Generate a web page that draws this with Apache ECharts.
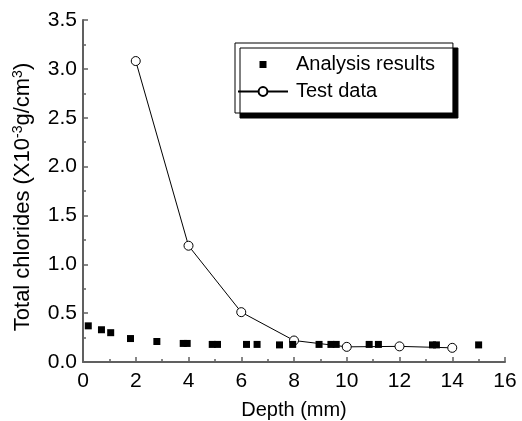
<!DOCTYPE html>
<html>
<head>
<meta charset="utf-8">
<script src="https://cdn.jsdelivr.net/npm/echarts@6/dist/echarts.min.js"></script>
<style>
  html, body { margin: 0; padding: 0; background: #fff; }
  #chart { width: 522px; height: 421px; }
</style>
</head>
<body>
<div id="chart"></div>
<script>
  // Analysis results: [depth (mm), total chlorides]
  const analysisResults = [
    [0.2, 0.37], [0.7, 0.33], [1.05, 0.3], [1.8, 0.24], [2.8, 0.21],
    [3.8, 0.19], [3.95, 0.19], [4.9, 0.18], [5.1, 0.18], [6.2, 0.18],
    [6.6, 0.18], [7.45, 0.175], [7.95, 0.18], [8.95, 0.18], [9.4, 0.18],
    [9.6, 0.18], [10.85, 0.18], [11.2, 0.18], [13.25, 0.175], [13.4, 0.175],
    [15.0, 0.175]
  ]
  // Test data
  const testDepth = [2, 4, 6, 8, 10, 12, 14]
  const testValues = [3.08, 1.19, 0.51, 0.22, 0.155, 0.16, 0.145]

  const axisColor = '#606060'
  const font = 'Arial, "Liberation Sans", sans-serif'

  const chart = echarts.init(document.getElementById('chart'))

  const option = {
    animation: false,
    backgroundColor: '#fff',
    textStyle: { fontFamily: font },
    grid: { left: 83, right: 17, top: 20, bottom: 59, outerBoundsMode: 'none' },
    legend: {
      orient: 'vertical',
      left: 235,
      top: 43,
      padding: [10, 18, 10, 2],
      itemWidth: 50,
      itemHeight: 11,
      itemGap: 4,
      backgroundColor: '#fff',
      borderColor: '#000',
      borderWidth: 1,
      shadowColor: '#000',
      shadowBlur: 0,
      shadowOffsetX: 5,
      shadowOffsetY: 5,
      textStyle: { fontSize: 20, lineHeight: 23, color: '#000', fontFamily: font, padding: [0, 0, 0, 3] },
      data: [
        { name: 'Analysis results', icon: 'path://M0,0M11,11M2,2L9,2L9,9L2,9Z' },
        { name: 'Test data' }
      ]
    },
    xAxis: {
      type: 'value',
      min: 0,
      max: 16,
      interval: 2,
      name: 'Depth (mm)',
      nameLocation: 'middle',
      nameGap: 38,
      nameTextStyle: { fontSize: 20, color: '#000', fontFamily: font },
      axisLine: { onZero: false, lineStyle: { color: axisColor, width: 2 } },
      axisTick: { inside: true, length: 5, lineStyle: { color: axisColor, width: 1.5 } },
      minorTick: { show: true, splitNumber: 2, length: 3, lineStyle: { color: axisColor, width: 1.5 } },
      axisLabel: { fontSize: 21, color: '#000', margin: 9, fontFamily: font },
      splitLine: { show: false }
    },
    yAxis: {
      type: 'value',
      min: 0,
      max: 3.5,
      interval: 0.5,
      name: 'Total chlorides (X10{sup|-3}g/cm{sup|3})',
      nameLocation: 'middle',
      nameGap: 48,
      nameTextStyle: {
        fontSize: 22,
        color: '#000',
        fontFamily: font,
        padding: [0, 12, 0, 0],
        rich: {
          sup: { fontSize: 14, verticalAlign: 'top', padding: [0, 0, 10, 0], fontFamily: font }
        }
      },
      axisLine: { show: true, onZero: false, lineStyle: { color: axisColor, width: 2 } },
      axisTick: { inside: true, length: 5, lineStyle: { color: axisColor, width: 1.5 } },
      minorTick: { show: true, splitNumber: 2, length: 3, lineStyle: { color: axisColor, width: 1.5 } },
      axisLabel: {
        fontSize: 21,
        color: '#000',
        margin: 6,
        fontFamily: font,
        formatter: (v) => v.toFixed(1)
      },
      splitLine: { show: false }
    },
    series: [
      {
        name: 'Analysis results',
        type: 'scatter',
        symbol: 'rect',
        symbolSize: 7,
        itemStyle: { color: '#000', opacity: 1 },
        data: analysisResults,
        z: 3
      },
      {
        name: 'Test data',
        type: 'line',
        symbol: 'circle',
        symbolSize: 9,
        showAllSymbol: true,
        lineStyle: { color: '#000', width: 1 },
        itemStyle: { color: '#fff', borderColor: '#000', borderWidth: 1 },
        data: testDepth.map((d, i) => [d, testValues[i]]),
        z: 2
      }
    ]
  }

  chart.setOption(option)
</script>
</body>
</html>
